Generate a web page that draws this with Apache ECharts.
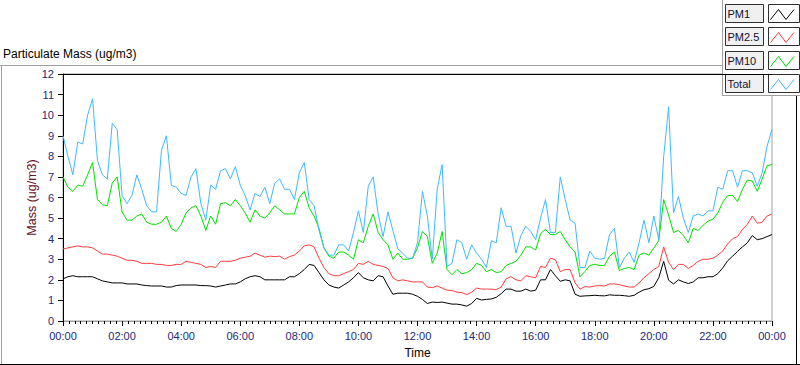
<!DOCTYPE html>
<html><head><meta charset="utf-8">
<script src="https://cdn.jsdelivr.net/npm/echarts@6/dist/echarts.min.js"></script>
<style>html,body{margin:0;padding:0;background:#fff;}#c{width:800px;height:365px;}</style>
</head><body><div id="c"></div>
<script>
// Time stamps (minutes after midnight), one reading every 10 minutes
const timesMin = [0,10,20,30,40,50,60,70,80,90,100,110,120,130,140,150,160,170,180,190,200,210,220,230,240,250,260,270,280,290,300,310,320,330,340,350,360,370,380,390,400,410,420,430,440,450,460,470,480,490,500,510,520,530,540,550,560,570,580,590,600,610,620,630,640,650,660,670,680,690,700,710,720,730,740,750,760,770,780,790,800,810,820,830,840,850,860,870,880,890,900,910,920,930,940,950,960,970,980,990,1000,1010,1020,1030,1040,1050,1060,1070,1080,1090,1100,1110,1120,1130,1140,1150,1160,1170,1180,1190,1200,1210,1220,1230,1240,1250,1260,1270,1280,1290,1300,1310,1320,1330,1340,1350,1360,1370,1380,1390,1400,1410,1420,1430,1440];

const pm1 = [2.05,2.15,2.2,2.15,2.15,2.15,2.15,2.05,1.95,1.9,
1.85,1.85,1.85,1.8,1.8,1.8,1.75,1.72,1.7,1.7,
1.7,1.65,1.65,1.72,1.75,1.75,1.75,1.75,1.72,1.72,
1.7,1.65,1.7,1.75,1.8,1.8,1.9,2.05,2.15,2.2,
2.15,2.0,2.0,2.0,2.0,2.0,2.15,2.15,2.3,2.5,
2.75,2.7,2.35,2.0,1.75,1.65,1.6,1.75,1.9,2.1,
2.35,2.1,2.0,1.95,2.2,2.15,1.7,1.3,1.35,1.35,
1.35,1.3,1.2,1.05,0.85,0.92,0.9,0.92,0.87,0.82,
0.82,0.78,0.72,0.85,1.1,1.02,1.05,1.07,1.15,1.33,
1.55,1.55,1.45,1.45,1.55,1.45,1.5,2.0,2.0,2.5,
2.2,1.93,2.0,1.95,1.3,1.2,1.22,1.23,1.25,1.23,
1.22,1.27,1.25,1.25,1.23,1.2,1.25,1.4,1.52,1.57,
1.68,2.1,2.9,1.98,1.8,2.0,1.9,1.82,1.9,2.1,
2.1,2.15,2.15,2.3,2.58,2.93,3.15,3.38,3.6,3.8,
4.15,3.95,4.0,4.1,4.2];

const pm25 = [3.5,3.55,3.6,3.65,3.6,3.6,3.55,3.4,3.25,3.25,
3.2,3.15,3.05,2.95,2.95,2.9,2.8,2.8,2.8,2.75,
2.75,2.7,2.7,2.75,2.75,2.9,2.85,2.8,2.75,2.6,
2.65,2.6,2.9,2.9,2.9,2.95,3.05,3.1,3.15,3.3,
3.2,3.1,3.15,3.13,3.15,3.0,3.13,3.2,3.4,3.65,
3.7,3.6,3.05,2.6,2.3,2.2,2.2,2.3,2.4,2.5,
2.8,2.75,2.9,2.75,2.7,2.65,2.55,2.1,1.95,2.0,
1.95,1.9,1.9,1.9,1.65,1.62,1.7,1.6,1.5,1.48,
1.4,1.38,1.28,1.4,1.6,1.55,1.55,1.55,1.52,1.65,
2.05,2.15,2.0,1.95,2.2,2.15,2.1,2.65,2.6,3.05,
2.98,2.4,2.5,2.5,1.85,1.55,1.67,1.65,1.7,1.72,
1.7,1.8,1.8,1.77,1.7,1.65,1.65,1.85,2.1,2.3,
2.5,2.65,3.6,2.85,2.5,2.75,2.75,2.55,2.7,2.9,
3.0,3.0,3.05,3.2,3.4,3.75,4.0,4.1,4.45,4.7,
5.1,4.75,4.8,5.1,5.2];

const pm10 = [7.0,6.5,6.3,6.6,6.55,7.1,7.7,5.9,5.65,5.6,
6.7,7.0,5.3,4.9,4.9,5.1,5.2,4.8,4.7,4.7,
4.8,5.1,4.5,4.35,4.7,5.25,5.5,5.6,5.1,4.4,
5.1,4.7,5.7,5.75,5.6,5.9,5.6,5.25,4.8,5.4,
5.1,5.0,5.25,5.6,5.4,5.2,5.2,5.2,6.0,6.3,
5.5,5.1,4.5,3.55,3.15,3.05,3.35,3.35,3.2,3.0,
3.95,3.8,4.6,5.2,4.3,3.95,3.7,3.0,3.3,3.0,
3.0,3.05,3.55,4.35,4.1,2.8,3.3,4.35,2.5,2.25,
2.5,2.3,2.35,2.5,2.8,2.7,2.4,2.5,2.35,2.4,
2.7,2.8,2.9,3.2,3.6,3.6,3.45,4.25,4.45,4.2,
4.2,4.35,3.95,3.6,3.35,2.15,2.4,2.7,2.75,2.7,
2.7,3.15,3.35,2.45,2.55,2.6,2.5,3.2,3.3,3.2,
3.55,3.9,5.9,5.15,4.3,4.4,4.15,3.8,4.5,4.4,
4.65,4.85,4.95,5.25,5.77,6.1,6.1,5.8,6.4,6.85,
6.8,6.3,6.9,7.55,7.6];

const total = [9.0,8.0,7.1,8.7,8.6,10.0,10.8,7.8,7.1,6.9,
9.6,9.3,6.1,5.7,6.1,7.1,6.4,5.6,5.3,5.3,
8.3,9.0,6.6,6.5,6.2,6.1,7.0,7.4,5.7,4.9,
6.6,6.4,7.3,7.4,6.9,7.5,6.6,6.1,5.4,6.2,
6.05,6.5,5.7,6.7,6.9,6.4,6.4,5.9,7.2,7.7,
5.9,5.6,4.4,3.55,3.2,3.2,3.7,3.7,3.4,4.3,
5.35,4.3,6.55,7.0,5.2,4.1,5.3,4.4,3.5,3.3,
3.05,3.05,3.8,6.3,5.1,3.0,6.4,7.6,2.65,2.8,
3.95,3.8,3.0,3.7,3.3,3.0,2.6,3.9,3.8,5.5,
4.6,4.6,3.3,4.15,4.6,4.35,3.95,5.0,5.9,4.3,
4.3,7.0,5.9,4.9,4.75,2.6,2.6,3.4,3.05,3.0,
3.05,4.2,4.5,2.6,3.05,3.35,2.85,3.8,4.9,3.8,
5.1,3.95,8.0,10.4,5.25,6.05,5.0,4.3,5.1,5.2,
5.1,5.35,5.35,6.5,6.4,7.3,7.3,6.5,7.3,7.3,
7.2,6.55,7.2,8.5,9.3];

const seriesNames = ['PM1', 'PM2.5', 'PM10', 'Total'];
const seriesValues = [pm1, pm25, pm10, total];
const seriesColors = ['#000000', '#ff3c3c', '#00dd00', '#3fb8ff'];
const xTickLabels = ['00:00','02:00','04:00','06:00','08:00','10:00','12:00','14:00','16:00','18:00','20:00','22:00','00:00'];

const FONT = '"Liberation Sans", Arial, sans-serif';
const LABEL_COLOR = '#1a2a78';

const chart = echarts.init(document.getElementById('c'), null, {renderer: 'svg'});

const series = seriesNames.map((name, s) => ({
  name: name,
  type: 'line',
  xAxisIndex: 0,
  yAxisIndex: 0,
  showSymbol: false,
  symbol: 'none',
  animation: false,
  lineStyle: {color: seriesColors[s], width: 1},
  itemStyle: {color: seriesColors[s]},
  data: timesMin.map((t, i) => [t, seriesValues[s][i]])
}));

// legend drawn as a LabVIEW-style plot legend
const legendChildren = [
  {type: 'rect', shape: {x: 0, y: 0, width: 80, height: 96}, style: {fill: '#ffffff', stroke: null}},
  {type: 'line', shape: {x1: 0.5, y1: 0, x2: 0.5, y2: 96}, style: {stroke: '#a0a0a0', lineWidth: 1}},
  {type: 'line', shape: {x1: 0, y1: 95.5, x2: 80, y2: 95.5}, style: {stroke: '#a0a0a0', lineWidth: 1}}
];
seriesNames.forEach((name, s) => {
  const top = 3.5 + s * 23.6;
  const y0 = Math.round(top) + 0.5;
  legendChildren.push(
    {type: 'rect', shape: {x: 3.5, y: y0, width: 38, height: 18}, style: {fill: '#f0f0f0', stroke: '#303030', lineWidth: 1}},
    {type: 'text', x: 5.5, y: y0 + 9.5, style: {text: name, font: '11px ' + FONT, fill: '#101030', verticalAlign: 'middle', align: 'left'}},
    {type: 'rect', shape: {x: 46.5, y: y0, width: 31, height: 18}, style: {fill: '#ffffff', stroke: '#303030', lineWidth: 1}},
    {type: 'polyline', shape: {points: [[48.5, y0 + 15], [56.5, y0 + 5], [64, y0 + 15], [72, y0 + 5]]}, style: {stroke: seriesColors[s], lineWidth: 1, fill: null}}
  );
});

const option = {
  animation: false,
  backgroundColor: '#ffffff',
  textStyle: {fontFamily: FONT},
  title: {
    text: 'Particulate Mass (ug/m3)',
    left: 3, top: 48, padding: 0,
    textStyle: {fontSize: 12, fontWeight: 'normal', color: '#000', fontFamily: FONT}
  },
  grid: {
    left: 63, right: 28, top: 74, bottom: 44,
    show: true, borderColor: '#a0a0a0', borderWidth: 1, backgroundColor: 'transparent',
    containLabel: false
  },
  xAxis: [{
    type: 'value', min: 0, max: 1440, interval: 120,
    position: 'bottom',
    name: 'Time', nameLocation: 'middle', nameGap: 26, nameMoveOverlap: false,
    nameTextStyle: {fontSize: 12, color: '#000', fontFamily: FONT},
    axisLine: {show: true, onZero: false, lineStyle: {color: '#a0a0a0', width: 1}},
    axisTick: {show: true, length: 5, lineStyle: {color: '#000'}},
    minorTick: {show: true, splitNumber: 10, length: 3, lineStyle: {color: '#000'}},
    axisLabel: {margin: 9, fontSize: 11, color: LABEL_COLOR, fontFamily: FONT,
      formatter: v => xTickLabels[Math.round(v / 120)]},
    splitLine: {show: false}
  }, {
    type: 'value', min: 0, max: 1440, position: 'top',
    axisLine: {show: true, onZero: false, lineStyle: {color: '#000', width: 1}},
    axisTick: {show: false}, axisLabel: {show: false}, splitLine: {show: false}
  }],
  yAxis: {
    type: 'value', min: 0, max: 12, interval: 1,
    name: 'Mass (ug/m3)', nameLocation: 'middle', nameGap: 31, nameRotate: 90, nameMoveOverlap: false,
    nameTextStyle: {fontSize: 12.5, color: '#6a1028', fontFamily: FONT, verticalAlign: 'middle', padding: 0},
    axisLine: {show: true, onZero: false, lineStyle: {color: '#000', width: 1}},
    axisTick: {show: true, length: 5, lineStyle: {color: '#000'}},
    axisLabel: {margin: 9, fontSize: 11, color: LABEL_COLOR, fontFamily: FONT},
    splitLine: {show: false}
  },
  series: series,
  graphic: [
    {type: 'line', z: 50, shape: {x1: 0, y1: 65.5, x2: 722, y2: 65.5}, style: {stroke: '#a0a0a0', lineWidth: 1}},
    {type: 'line', z: 50, shape: {x1: 1.5, y1: 65, x2: 1.5, y2: 364}, style: {stroke: '#a0a0a0', lineWidth: 1}},
    {type: 'line', z: 50, shape: {x1: 0, y1: 364.5, x2: 800, y2: 364.5}, style: {stroke: '#000', lineWidth: 1}},
    {type: 'line', z: 50, shape: {x1: 796.5, y1: 96, x2: 796.5, y2: 365}, style: {stroke: '#000', lineWidth: 1}},
    {type: 'group', x: 722, y: 0, z: 100, children: legendChildren}
  ]
};
chart.setOption(option);
</script>
</body></html>
